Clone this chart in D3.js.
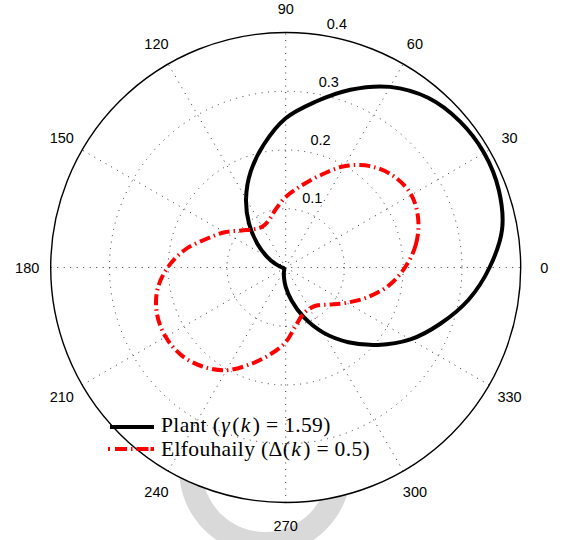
<!DOCTYPE html>
<html><head><meta charset="utf-8">
<script src="https://cdn.jsdelivr.net/npm/d3@7"></script>
<style>html,body{margin:0;padding:0;background:#fff}svg{display:block}</style>
</head><body>
<svg id="chart" width="562" height="540"></svg>
<script>
// ---- data ----
const angles = [0,10,20,30,40,50,60,70,80,90,100,110,120,130,140,150,160,170,
                180,190,200,210,220,230,240,250,260,270,280,290,300,310,320,330,340,350];
const plantR = [0.347,0.374,0.386,0.390,0.387,0.377,0.355,0.322,0.286,0.254,0.213,0.174,
                0.135,0.097,0.063,0.037,0.020,0.010,0.006,0.004,0.004,0.004,0.004,0.004,
                0.005,0.009,0.017,0.033,0.057,0.090,0.128,0.166,0.205,0.245,0.280,0.316];
const elfR   = [0.203,0.225,0.240,0.247,0.241,0.225,0.199,0.166,0.140,0.120,0.100,0.085,
                0.080,0.085,0.098,0.120,0.143,0.174,0.201,0.222,0.233,0.236,0.232,0.220,
                0.202,0.175,0.150,0.127,0.100,0.085,0.081,0.084,0.098,0.120,0.148,0.178];
const angleTicks = [0,30,60,90,120,150,180,210,240,270,300,330];
const spokeAngles = [0,30,60,90,120,150];
const radialTicks = [0.1,0.2,0.3,0.4];
const rMax = 0.4;
const legendLabels = ["Plant (\u03B3(k) = 1.59)", "Elfouhaily (\u0394(k) = 0.5)"];
const italicChars = ["\u03B3", "k"];

// ---- layout ----
const svg = d3.select("#chart");
const cx = 285.7, cy = 267.5, R = 235;
const r = d3.scaleLinear().domain([0, rMax]).range([0, R]);
const rad = d => d * Math.PI / 180;

// background grey ring (behind the white polar disk)
svg.append("path")
  .attr("transform", "translate(265,469)")
  .attr("d", d3.arc()({innerRadius: 63, outerRadius: 86, startAngle: 0, endAngle: 2 * Math.PI}))
  .attr("fill", "#d9d9d9");

const g = svg.append("g").attr("transform", `translate(${cx},${cy})`);

g.append("circle").attr("r", r(rMax)).attr("fill", "#fff");

// dotted rings
g.selectAll("circle.ring").data(radialTicks.filter(v => v < rMax)).join("circle")
  .attr("class", "ring").attr("r", d => r(d))
  .attr("fill", "none").attr("stroke", "#333").attr("stroke-width", 1)
  .attr("stroke-dasharray", "1,5.5");

// dotted spokes through the full diameter
g.selectAll("line.spoke").data(spokeAngles).join("line")
  .attr("class", "spoke")
  .attr("x1", d => -r(rMax) * Math.cos(rad(d))).attr("y1", d => r(rMax) * Math.sin(rad(d)))
  .attr("x2", d => r(rMax) * Math.cos(rad(d))).attr("y2", d => -r(rMax) * Math.sin(rad(d)))
  .attr("stroke", "#333").attr("stroke-width", 1).attr("stroke-dasharray", "1,5.5");

// radial tick labels (at 82 degrees)
g.selectAll("text.rt").data(radialTicks).join("text")
  .attr("class", "rt")
  .attr("x", d => r(d + 0.005) * Math.cos(rad(82)) + 8)
  .attr("y", d => -r(d + 0.005) * Math.sin(rad(82)) - 3)
  .attr("font-family", "'Liberation Sans', Arial, sans-serif").attr("font-size", 14.5)
  .attr("fill", "#000")
  .text(d => d.toFixed(1));

// angle labels
g.selectAll("text.at").data(angleTicks).join("text")
  .attr("class", "at")
  .attr("x", d => r(rMax * 1.1) * Math.cos(rad(d)))
  .attr("y", d => -r(rMax * 1.1) * Math.sin(rad(d)))
  .attr("dy", "0.36em")
  .attr("text-anchor", "middle")
  .attr("font-family", "'Liberation Sans', Arial, sans-serif").attr("font-size", 14.5)
  .attr("fill", "#000")
  .text(d => d);

// curves
const radial = d3.lineRadial()
  .angle(d => rad(90 - d[0]))
  .radius(d => r(d[1]))
  .curve(d3.curveCatmullRomClosed.alpha(0.5));

const plantPts = angles.map((a, i) => [a, plantR[i]]);
const elfPts = angles.map((a, i) => [a, elfR[i]]);

g.append("path").attr("d", radial(plantPts))
  .attr("fill", "none").attr("stroke", "#000").attr("stroke-width", 4)
  .attr("stroke-linejoin", "round");

g.append("path").attr("d", radial(elfPts))
  .attr("fill", "none").attr("stroke", "#ff0000").attr("stroke-width", 4)
  .attr("stroke-dasharray", "11,4,1.5,4");

// legend
const legend = svg.append("g");
const legY = [427, 449];
const textY = [431.5, 455.5];
legend.append("line").attr("x1", 110).attr("x2", 154).attr("y1", legY[0]).attr("y2", legY[0])
  .attr("stroke", "#000").attr("stroke-width", 4);
legend.append("line").attr("x1", 108).attr("x2", 154).attr("y1", legY[1]).attr("y2", legY[1])
  .attr("stroke", "#ff0000").attr("stroke-width", 4).attr("stroke-dasharray", "2,5,12,4,1.5,4,12");

legendLabels.forEach((label, i) => {
  // split into runs of upright / italic characters, each its own text element
  const runs = [];
  for (const ch of label) {
    const it = italicChars.includes(ch);
    if (runs.length && runs[runs.length - 1].it === it) runs[runs.length - 1].s += ch;
    else runs.push({s: ch, it});
  }
  let x = 161;
  runs.forEach(run => {
    const t = legend.append("text").attr("x", x).attr("y", textY[i])
      .attr("font-family", "'Liberation Serif', 'Times New Roman', serif")
      .attr("font-size", 21.5).attr("letter-spacing", 0.35).attr("fill", "#000")
      .attr("font-style", run.it ? "italic" : "normal")
      .text(run.s);
    const b = t.node().getBBox();
    x = b.x + b.width + (run.it ? 2 : 1);
  });
});

// outer solid circle
g.append("circle").attr("r", r(rMax)).attr("fill", "none")
  .attr("stroke", "#000").attr("stroke-width", 1.4);
</script>
</body></html>
